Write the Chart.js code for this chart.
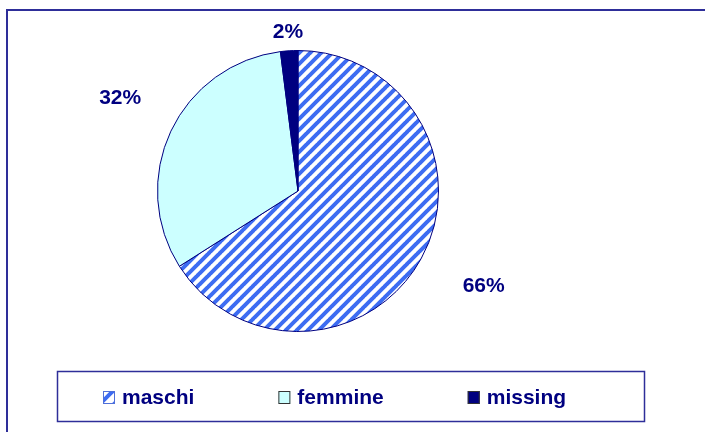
<!DOCTYPE html>
<html>
<head>
<meta charset="utf-8">
<script src="https://cdn.jsdelivr.net/npm/chart.js@4.4.1/dist/chart.umd.min.js"></script>
<style>
html,body{margin:0;padding:0;background:#fff;}
#wrap{width:705px;height:432px;position:relative;}
</style>
</head>
<body>
<div id="wrap"><canvas id="c" width="705" height="432"></canvas></div>
<script>
// ---- data ----
const categories = ["maschi", "femmine", "missing"];
const values = [66, 32, 2];
const valueLabels = ["66%", "32%", "2%"];

// ---- styles ----
const NAVY = "#000080";
const FRAME = "#2E2E99";
const labelOffsets = [68, 60, 19];
const labelAngleShift = [-0.03, 0.04, 0];
const FONT = "bold 21px 'Liberation Sans', Arial, sans-serif";

function makeHatch(size, lw) {
  const c = document.createElement("canvas");
  c.width = size; c.height = size;
  const g = c.getContext("2d");
  g.fillStyle = "#ffffff";
  g.fillRect(0, 0, size, size);
  g.strokeStyle = "#3D6CF2";
  g.lineWidth = lw;
  g.beginPath();
  for (let k = -1; k <= 1; k++) {
    g.moveTo(k * size - 1, size + 1);
    g.lineTo(k * size + size + 1, -1);
  }
  g.stroke();
  return g.createPattern(c, "repeat");
}
const hatch = makeHatch(11, 4);
const sliceColors = [hatch, "#CCFFFF", NAVY];

const framePlugin = {
  id: "frame",
  beforeDraw(chart) {
    const ctx = chart.ctx;
    ctx.save();
    ctx.fillStyle = "#fff";
    ctx.fillRect(0, 0, chart.width, chart.height);
    ctx.strokeStyle = FRAME;
    ctx.lineWidth = 2;
    ctx.strokeRect(7, 10, chart.width + 20, chart.height + 20);
    ctx.restore();
  }
};

const labelPlugin = {
  id: "pctLabels",
  afterDatasetsDraw(chart) {
    const ctx = chart.ctx;
    const meta = chart.getDatasetMeta(0);
    ctx.save();
    ctx.font = FONT;
    ctx.fillStyle = NAVY;
    ctx.textAlign = "center";
    ctx.textBaseline = "middle";
    meta.data.forEach((arc, i) => {
      const p = arc.getProps(["x", "y", "startAngle", "endAngle", "outerRadius"], true);
      const mid = (p.startAngle + p.endAngle) / 2 + labelAngleShift[i];
      const r = p.outerRadius + labelOffsets[i];
      ctx.fillText(valueLabels[i], p.x + Math.cos(mid) * r, p.y + Math.sin(mid) * r);
    });
    ctx.restore();
  }
};

const legendPlugin = {
  id: "boxLegend",
  afterDraw(chart) {
    const ctx = chart.ctx;
    ctx.save();
    ctx.fillStyle = "#fff";
    ctx.fillRect(57, 371, 587, 50);
    ctx.strokeStyle = FRAME;
    ctx.lineWidth = 1.5;
    ctx.strokeRect(57.5, 371.5, 587, 50);
    ctx.font = FONT;
    ctx.textBaseline = "middle";
    ctx.textAlign = "left";
    let x = 103;
    const cy = 397;
    categories.forEach((name, i) => {
      ctx.fillStyle = i === 0 ? makeHatch(14, 4) : sliceColors[i];
      ctx.fillRect(x, cy - 6, 12, 13);
      ctx.strokeStyle = i === 0 ? "#5070D8" : "#333";
      ctx.lineWidth = 1;
      ctx.strokeRect(x + 0.5, cy - 5.5, 11, 12);
      ctx.fillStyle = NAVY;
      const tx = x + 19;
      ctx.fillText(name, tx, cy + 1);
      x = tx + ctx.measureText(name).width + 84;
    });
    ctx.restore();
  }
};

new Chart(document.getElementById("c"), {
  type: "pie",
  data: {
    labels: categories,
    datasets: [{
      data: values,
      backgroundColor: sliceColors,
      borderColor: NAVY,
      borderWidth: 1
    }]
  },
  options: {
    responsive: false,
    animation: false,
    layout: { padding: { top: 50, bottom: 100, left: 157, right: 266 } },
    plugins: { legend: { display: false }, tooltip: { enabled: false } }
  },
  plugins: [framePlugin, labelPlugin, legendPlugin]
});
</script>
</body>
</html>
